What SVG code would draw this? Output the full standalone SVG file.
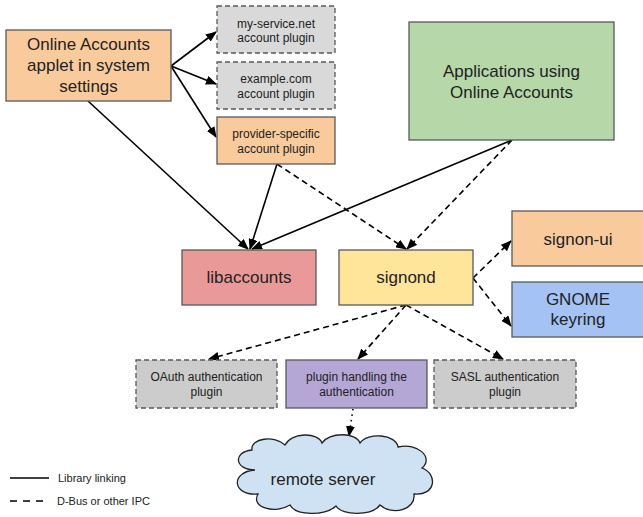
<svg xmlns="http://www.w3.org/2000/svg" width="643" height="517" viewBox="0 0 643 517">
<style>
.box{stroke:#595959;stroke-width:1.3}
.dbox{stroke:#595959;stroke-width:1.3;stroke-dasharray:5,3}
.t{font-family:"Liberation Sans",Arial,sans-serif;fill:#222;text-anchor:middle}
.big{font-size:17px}
.sm{font-size:12px}
.solid{stroke:#000;stroke-width:1.6;fill:none}
.dash{stroke:#000;stroke-width:1.6;fill:none;stroke-dasharray:6,4}
.dot{stroke:#000;stroke-width:1.6;fill:none;stroke-dasharray:1.5,4}
.leg{font-family:"Liberation Sans",Arial,sans-serif;font-size:11px;fill:#222}
</style>
<defs>
<marker id="ah" markerUnits="userSpaceOnUse" markerWidth="11" markerHeight="9" refX="10" refY="4.5" orient="auto">
<path d="M0,0 L11,4.5 L0,9 z" fill="#000"/>
</marker>
</defs>
<rect width="643" height="517" fill="#fff"/>
<g id="connectors">
<path class="solid" d="M171,66 L216,32" marker-end="url(#ah)"/>
<path class="solid" d="M171,66 L216,84" marker-end="url(#ah)"/>
<path class="solid" d="M171,66 L216,137" marker-end="url(#ah)"/>
<path class="solid" d="M88,101 L248,249" marker-end="url(#ah)"/>
<path class="solid" d="M277,164 L250,249" marker-end="url(#ah)"/>
<path class="solid" d="M512,140 L252,249" marker-end="url(#ah)"/>
<path class="dash" d="M277,164 L406,249" marker-end="url(#ah)"/>
<path class="dash" d="M512,140 L407,249" marker-end="url(#ah)"/>
<path class="dash" d="M473,278 L511,241" marker-end="url(#ah)"/>
<path class="dash" d="M473,278 L511,326" marker-end="url(#ah)"/>
<path class="dash" d="M406,305 L209,359" marker-end="url(#ah)"/>
<path class="dash" d="M406,305 L358,359" marker-end="url(#ah)"/>
<path class="dash" d="M406,305 L503,359" marker-end="url(#ah)"/>
<path class="dot" d="M353,409 L349,436" marker-end="url(#ah)"/>
</g>
<g id="online-accounts">
<rect class="box" x="6" y="30" width="165" height="71" fill="#f9cb9c"/>
<text class="t big" x="88.5" y="50">Online Accounts</text>
<text class="t big" x="88.5" y="71">applet in system</text>
<text class="t big" x="88.5" y="92">settings</text>
</g>
<g id="my-service">
<rect class="dbox" x="217" y="6" width="118" height="47" fill="#d9d9d9"/>
<text class="t sm" x="276" y="28">my-service.net</text>
<text class="t sm" x="276" y="42">account plugin</text>
</g>
<g id="example">
<rect class="dbox" x="217" y="62" width="118" height="47" fill="#d9d9d9"/>
<text class="t sm" x="276" y="83">example.com</text>
<text class="t sm" x="276" y="98">account plugin</text>
</g>
<g id="provider">
<rect class="box" x="217" y="117" width="118" height="47" fill="#f9cb9c"/>
<text class="t sm" x="276" y="138">provider-specific</text>
<text class="t sm" x="276" y="153">account plugin</text>
</g>
<g id="applications">
<rect class="box" x="409" y="22" width="205" height="118" fill="#b6d7a8"/>
<text class="t big" x="511.5" y="77">Applications using</text>
<text class="t big" x="511.5" y="98">Online Accounts</text>
</g>
<g id="libaccounts">
<rect class="box" x="182" y="250" width="134" height="55" fill="#ea9999"/>
<text class="t big" x="249" y="283">libaccounts</text>
</g>
<g id="signond">
<rect class="box" x="339" y="250" width="134" height="55" fill="#ffe599"/>
<text class="t big" x="406" y="283">signond</text>
</g>
<g id="signon-ui">
<rect class="box" x="512" y="211" width="134" height="55" fill="#f9cb9c"/>
<text class="t big" x="578" y="245">signon-ui</text>
</g>
<g id="gnome-keyring">
<rect class="box" x="512" y="282" width="134" height="55" fill="#a4c2f4"/>
<text class="t big" x="578" y="305">GNOME</text>
<text class="t big" x="578" y="325">keyring</text>
</g>
<g id="oauth">
<rect class="dbox" x="136" y="360" width="141" height="48" fill="#cccccc"/>
<text class="t sm" x="206.5" y="381">OAuth authentication</text>
<text class="t sm" x="206.5" y="396">plugin</text>
</g>
<g id="plugin-handling">
<rect class="box" x="286" y="360" width="141" height="48" fill="#b4a7d6"/>
<text class="t sm" x="356.5" y="381">plugin handling the</text>
<text class="t sm" x="356.5" y="396">authentication</text>
</g>
<g id="sasl">
<rect class="dbox" x="434" y="360" width="142" height="48" fill="#cccccc"/>
<text class="t sm" x="505" y="381">SASL authentication</text>
<text class="t sm" x="505" y="396">plugin</text>
</g>
<g id="remote-server">
<path d="M255,470 C235,470 232,452 252,450 C250,438 275,435 285,445 C292,432 318,432 322,443 C330,432 356,432 360,443 C368,432 396,434 398,447 C418,442 434,458 422,468 C438,474 436,496 414,494 C416,510 392,516 380,505 C372,516 342,516 336,506 C325,516 296,516 290,505 C276,514 250,508 258,494 C232,496 230,472 255,470 Z" fill="#cfe2f3" stroke="#222" stroke-width="1.3"/>
<text class="t big" x="323" y="485">remote server</text>
</g>
<g id="legend">
<line x1="10" y1="478" x2="49" y2="478" stroke="#000" stroke-width="1.6"/>
<text class="leg" x="58" y="482">Library linking</text>
<line x1="10" y1="501" x2="47" y2="501" stroke="#000" stroke-width="1.6" stroke-dasharray="7,6"/>
<text class="leg" x="57" y="505">D-Bus or other IPC</text>
</g>
</svg>
